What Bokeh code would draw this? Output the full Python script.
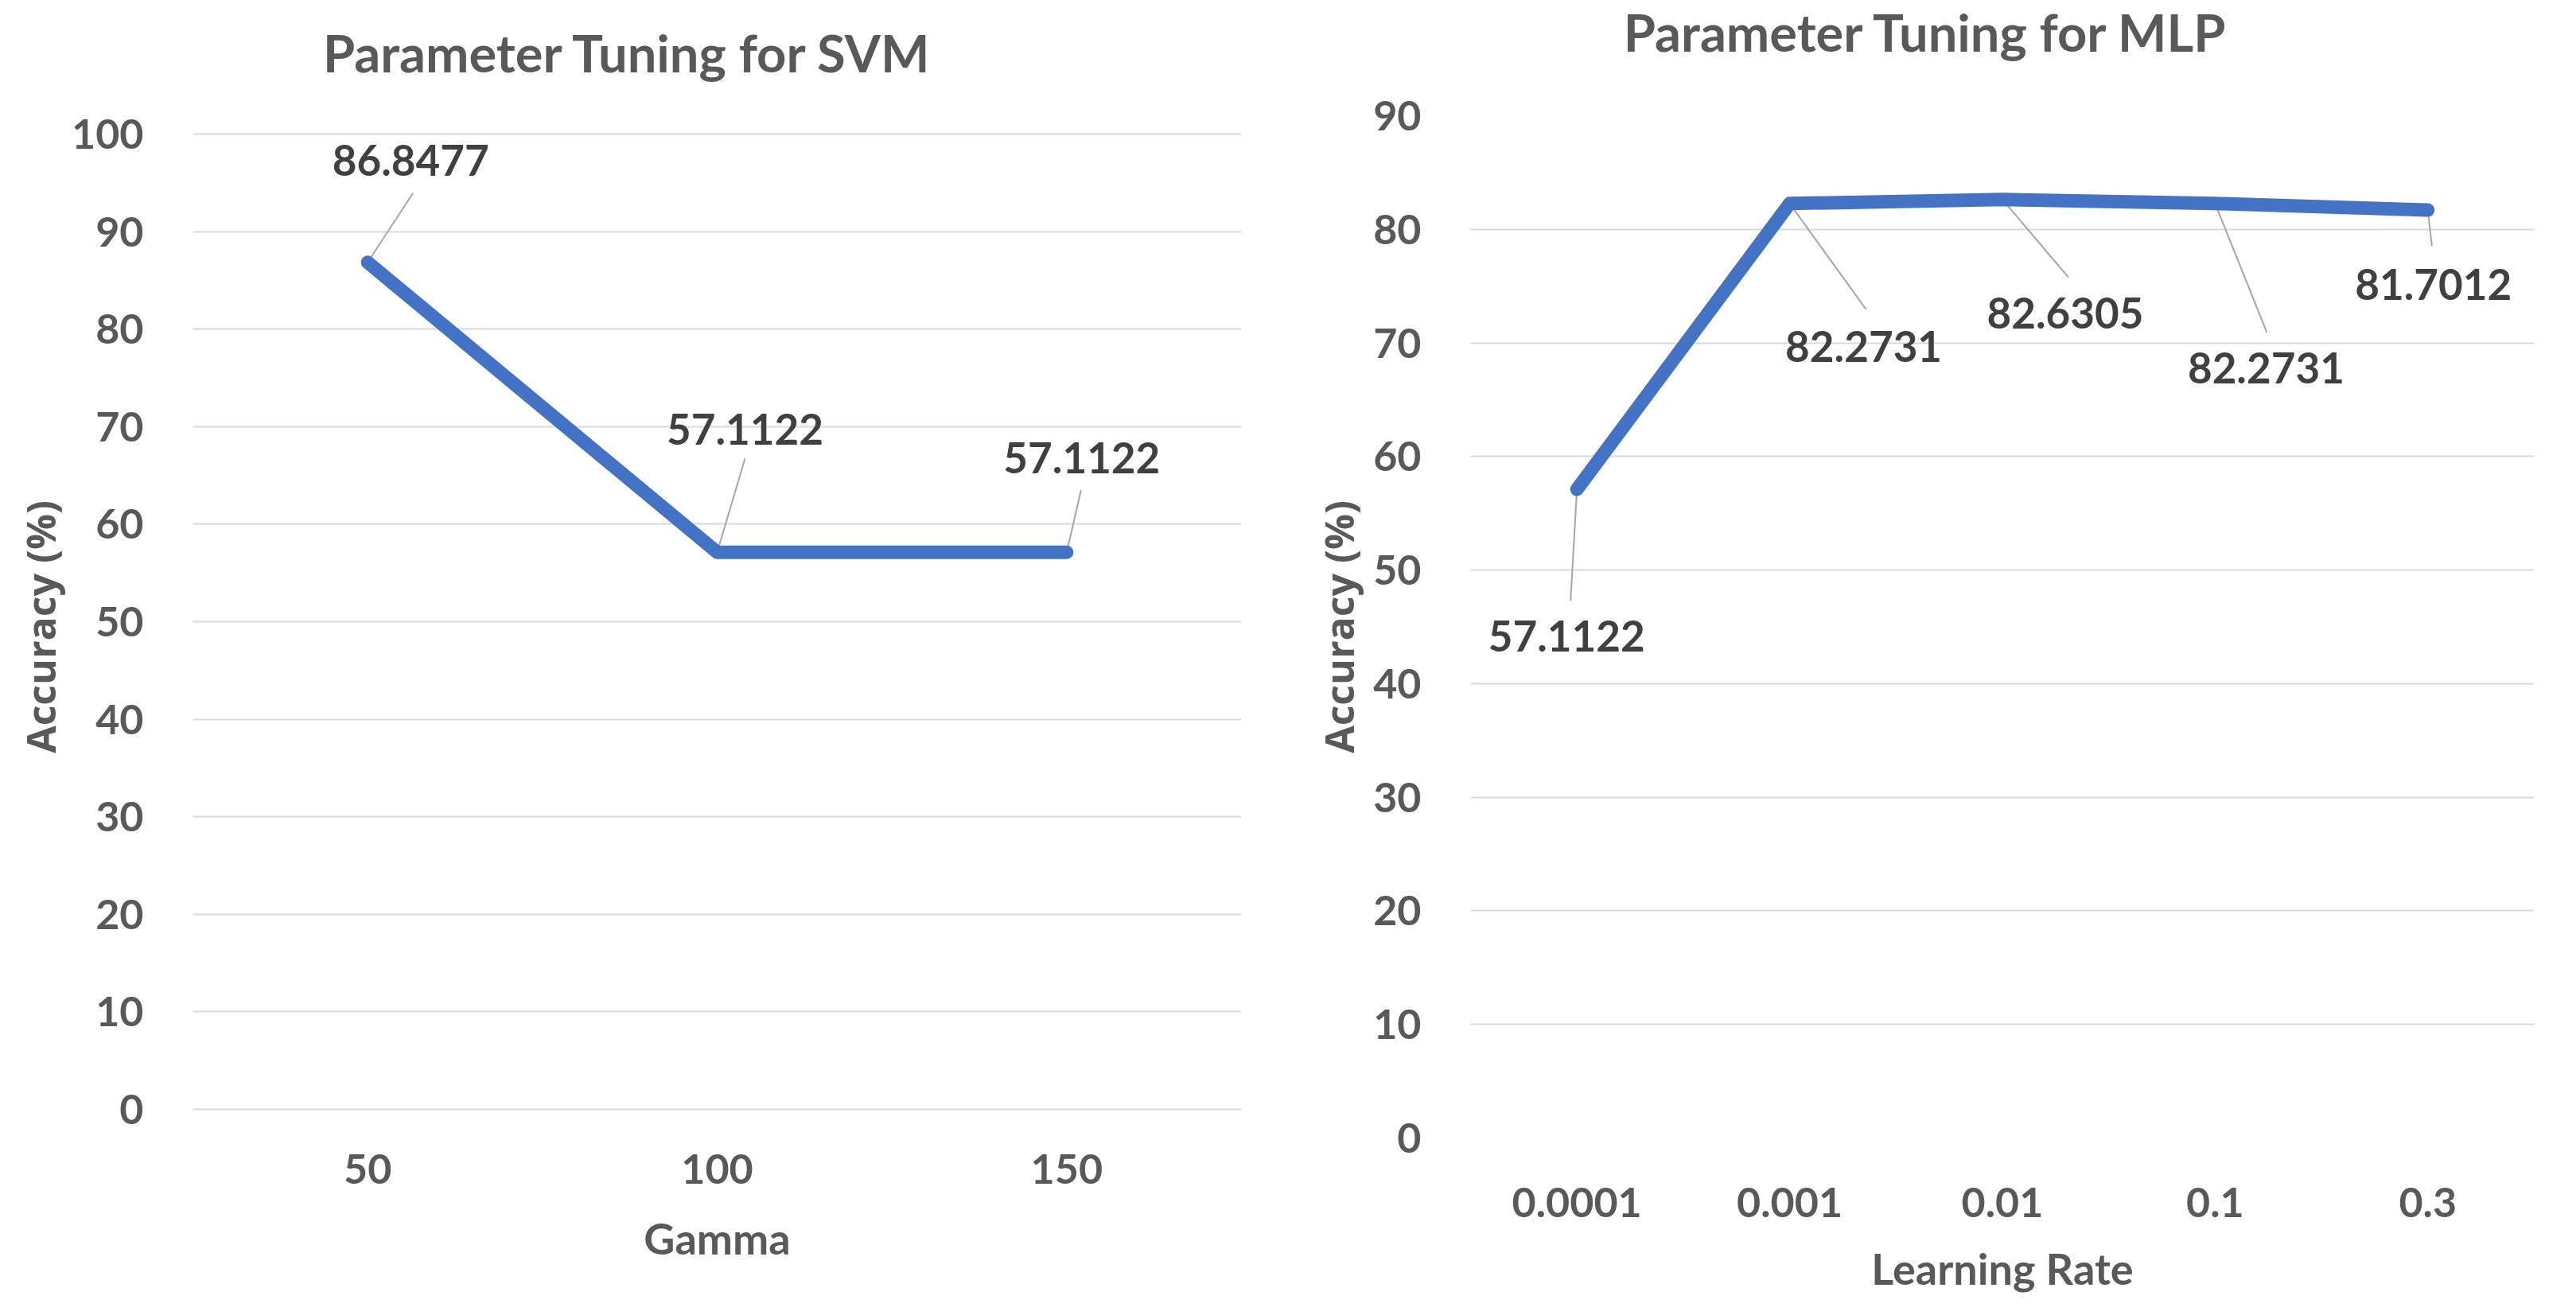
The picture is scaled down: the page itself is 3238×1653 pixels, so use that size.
from bokeh.plotting import figure
from bokeh.layouts import row, column
from bokeh.models import FactorRange, Range1d
from bokeh.embed import file_html
from bokeh.resources import INLINE
from bokeh.core.properties import value

# ---------------- data ----------------
svm_gamma = ["50", "100", "150"]
svm_acc = [86.8477, 57.1122, 57.1122]
svm_text = ["86.8477", "57.1122", "57.1122"]
svm_yticks = [0, 10, 20, 30, 40, 50, 60, 70, 80, 90, 100]

mlp_lr = ["0.0001", "0.001", "0.01", "0.1", "0.3"]
mlp_acc = [57.1122, 82.2731, 82.6305, 82.2731, 81.7012]
mlp_text = ["57.1122", "82.2731", "82.6305", "82.2731", "81.7012"]
mlp_yticks = [0, 10, 20, 30, 40, 50, 60, 70, 80, 90]

titles = ["Parameter Tuning for SVM", "Parameter Tuning for MLP"]

# ---------------- styling ----------------
FONT = "Lato"
GREY = "#595959"
DARK = "#404040"
BLUE = "#4472C4"

PAGE_W = 3222
HT = 108                 # height of the title strip
FIG_H = 1528             # height of the chart figures
BT = 37                  # top border of the chart figures
FH = 1285
FRAME_TOP_PAGE = 146
FRAME_BOT_PAGE = FRAME_TOP_PAGE + FH


def make_chart(cats, vals, texts, yticks, ytop, ytop_page, ybot_page, xlabel,
               fig_w, bl, fw, lab_off, lead_off,
               tick_standoff, ylab_standoff, xtick_standoff, xlab_standoff):
    n = len(cats)
    ppy = (ybot_page - ytop_page) / ytop
    ymin = -(FRAME_BOT_PAGE - ybot_page) / ppy
    ymax = ytop + (ytop_page - FRAME_TOP_PAGE) / ppy
    p = figure(title=None, x_range=FactorRange(factors=cats), y_range=Range1d(ymin, ymax),
               frame_width=fw, frame_height=FH,
               min_border_left=bl, min_border_top=BT,
               min_border_right=fig_w - bl - fw, min_border_bottom=FIG_H - BT - FH,
               output_backend="svg", toolbar_location=None)
    p.outline_line_color = None
    p.background_fill_color = "white"
    p.border_fill_color = "white"
    p.xgrid.grid_line_color = None
    p.ygrid.grid_line_color = "#D9D9D9"
    p.ygrid.grid_line_width = 2
    p.yaxis.ticker = yticks

    for ax in (p.xaxis[0], p.yaxis[0]):
        ax.axis_line_color = None
        ax.major_tick_line_color = None
        ax.minor_tick_line_color = None
        ax.major_label_text_font = FONT
        ax.major_label_text_font_style = "bold"
        ax.major_label_text_font_size = "52px"
        ax.major_label_text_color = GREY
        ax.axis_label_text_color = GREY
    p.yaxis.major_label_standoff = tick_standoff
    p.xaxis.major_label_standoff = xtick_standoff
    p.xaxis.axis_label = xlabel
    p.xaxis.axis_label_text_font = FONT
    p.xaxis.axis_label_text_font_style = "bold"
    p.xaxis.axis_label_text_font_size = "54px"
    p.xaxis.axis_label_standoff = xlab_standoff
    p.yaxis.axis_label = "Accuracy (%)"
    p.yaxis.axis_label_text_font = "Open Sans"
    p.yaxis.axis_label_text_font_style = "bold"
    p.yaxis.axis_label_text_font_size = "50px"
    p.yaxis.axis_label_standoff = ylab_standoff

    ppx = fw / n
    pos = [i + 0.5 for i in range(n)]

    # leader lines from each point towards its data label
    x1 = [pos[i] + lead_off[i][0] / ppx for i in range(n)]
    y1 = [vals[i] - lead_off[i][1] / ppy for i in range(n)]
    p.segment(x0=pos, y0=vals, x1=x1, y1=y1, line_color="#A6A6A6", line_width=2)

    p.line(x=cats, y=vals, line_color=BLUE, line_width=17,
           line_cap="round", line_join="round")

    p.text(x=cats, y=vals, text=texts,
           x_offset=[o[0] for o in lab_off], y_offset=[o[1] for o in lab_off],
           text_align="center", text_baseline="middle",
           text_font=value(FONT), text_font_style="bold",
           text_font_size="53px", text_color=DARK)
    return p


# title strip: a figure whose frame is the whole strip, coordinates in pixels
t = figure(title=None, width=PAGE_W, height=HT,
           x_range=Range1d(0, PAGE_W), y_range=Range1d(0, HT),
           min_border_left=0, min_border_right=0, min_border_top=0, min_border_bottom=0,
           output_backend="svg", toolbar_location=None)
t.axis.visible = False
t.grid.visible = False
t.outline_line_color = None
title_cx = [797 - 8, 2429 - 8]     # centre x in strip pixels
title_base = [43, 69]              # anchor, strip pixels from the bottom
t.text(x=title_cx, y=title_base, text=titles, text_align="center",
       text_baseline="alphabetic", text_font=value(FONT), text_font_style="bold",
       text_font_size="65px", text_color=GREY)

p1 = make_chart(svm_gamma, svm_acc, svm_text, svm_yticks, 100, 169, 1395, "Gamma",
                1612, 242, 1318,
                [(54, -128), (35, -155), (19, -119)],
                [(57, -87), (35, -118), (18, -78)],
                56, 2, 14, 33)
p2 = make_chart(mlp_lr, mlp_acc, mlp_text, mlp_yticks, 90, 146, 1431, "Learning Rate",
                1609, 236, 1337,
                [(-13, 184), (93, 180), (79, 143), (64, 207), (7, 94)],
                [(-8, 140), (96, 133), (83, 98), (65, 162), (5, 45)],
                56, 6, 56, 29)

layout = column(t, row(p1, p2))
open("out.html", "w").write(file_html(layout, INLINE))
